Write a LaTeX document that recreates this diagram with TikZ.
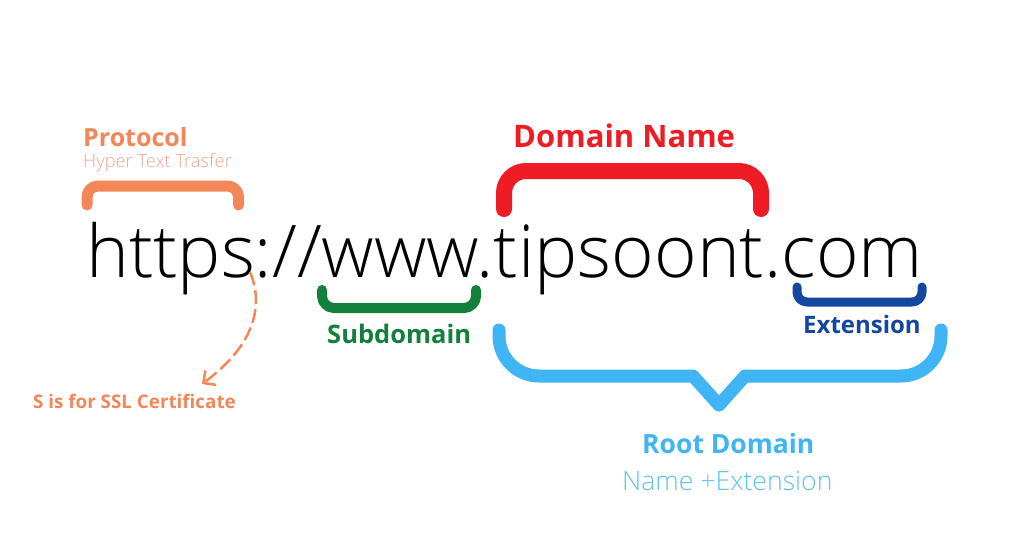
\documentclass[tikz,border=0pt]{standalone}
\usepackage{fontspec}
\setmainfont{Open Sans}
\IfFontExistsTF{Open Sans Light}{\newfontfamily\lightfont{Open Sans Light}}{\newfontfamily\lightfont{Open Sans}}
\usetikzlibrary{arrows.meta}
\definecolor{protocolorange}{HTML}{F4875A}
\definecolor{protocolpale}{HTML}{E9A78C}
\definecolor{domainred}{HTML}{EE1C25}
\definecolor{subgreen}{HTML}{12803C}
\definecolor{extblue}{HTML}{1447A0}
\definecolor{rootblue}{HTML}{3FB5F6}
\definecolor{rootpale}{HTML}{5EC2F2}

\begin{document}
\begin{tikzpicture}[x=1pt,y=-1pt,every node/.style={inner sep=0pt,anchor=base west},
  brace/.style={line cap=round,line join=round},
  boldlabel/.style={font=\bfseries\fontsize{#1}{#1}\selectfont},
  lightlabel/.style={font=\lightfont\fontsize{#1}{#1}\selectfont}]
\useasboundingbox[fill=white] (0,0) rectangle (1024,538);

\node[lightlabel=72.7] (url) at (86,277) {https://www.tipsoont.com};

\node[boldlabel=25,text=protocolorange] (protocol) at (83,146) {Protocol};
\node[lightlabel=18.3,text=protocolpale] (protocolsub) at (83,167) {Hyper Text Trasfer};
\draw[brace,protocolorange,line width=11,rounded corners=11] (87,205) -- (87,186) -- (238.5,186) -- (238.5,205);

\node[boldlabel=31,text=domainred] (domain) at (513,147) {Domain Name};
\draw[brace,domainred,line width=16,rounded corners=22] (504,209) -- (504,171) -- (761,171) -- (761,209);

\draw[brace,subgreen,line width=10,rounded corners=12] (322,290) -- (322,308) -- (476,308) -- (476,290);
\node[boldlabel=25.5,text=subgreen] (subdomain) at (327,343) {Subdomain};

\draw[brace,extblue,line width=9,rounded corners=10] (797,287) -- (797,302) -- (922,302) -- (922,287);
\node[boldlabel=24,text=extblue] (extension) at (803,333) {Extension};

\draw[brace,rootblue,line width=13] (499,330) [rounded corners=40] -- (499,376) -- (600,376) [sharp corners] -- (693,376) -- (719,405) -- (745,376) -- (840,376) [rounded corners=40] -- (941,376) -- (941,330);
\node[boldlabel=26.5,text=rootblue] (root) at (642,453) {Root Domain};
\node[lightlabel=26.6,text=rootpale] (rootsub) at (622,490) {Name +Extension};

\node[boldlabel=18.8,text=protocolorange] (ssl) at (33,408) {S is for SSL Certificate};
\coordinate (sslstart) at (250,272);
\draw[protocolorange,line width=2.5,dash pattern=on 14pt off 5pt,-{Straight Barb[length=9pt,width=18pt,line width=2.5pt]}]
  (sslstart) .. controls (264,305) and (255,345) .. (202,384);
\end{tikzpicture}
\end{document}
